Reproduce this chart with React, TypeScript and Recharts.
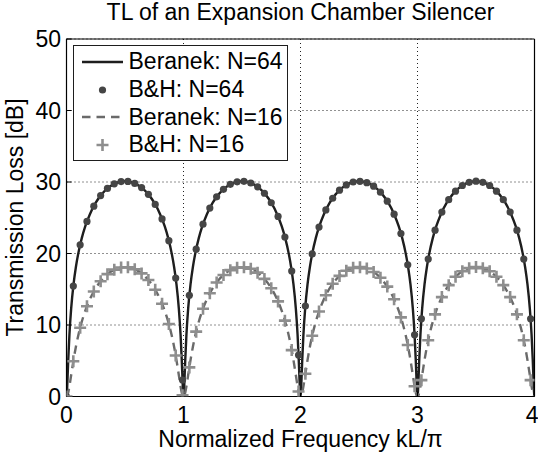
import React from 'react';
import { ComposedChart, Line, XAxis, YAxis, CartesianGrid } from 'recharts';

const xTicks = [0, 1, 2, 3, 4];
const yTicks = [0, 10, 20, 30, 40, 50];

// Beranek curves, dense kL/pi grid (denser near the zeros)
const beranekFreq = [
  0, 0.004, 0.008, 0.015, 0.025, 0.04, 0.06, 0.08, 0.1, 0.13, 0.16, 0.2, 0.25, 0.3, 0.35, 0.4, 0.45, 0.5,
  0.55, 0.6, 0.65, 0.7, 0.75, 0.8, 0.84, 0.87, 0.9, 0.92, 0.94, 0.96, 0.975, 0.985, 0.992, 0.996,
  1, 1.004, 1.008, 1.015, 1.025, 1.04, 1.06, 1.08, 1.1, 1.13, 1.16, 1.2, 1.25, 1.3, 1.35, 1.4, 1.45, 1.5,
  1.55, 1.6, 1.65, 1.7, 1.75, 1.8, 1.84, 1.87, 1.9, 1.92, 1.94, 1.96, 1.975, 1.985, 1.992, 1.996,
  2, 2.004, 2.008, 2.015, 2.025, 2.04, 2.06, 2.08, 2.1, 2.13, 2.16, 2.2, 2.25, 2.3, 2.35, 2.4, 2.45, 2.5,
  2.55, 2.6, 2.65, 2.7, 2.75, 2.8, 2.84, 2.87, 2.9, 2.92, 2.94, 2.96, 2.975, 2.985, 2.992, 2.996,
  3, 3.004, 3.008, 3.015, 3.025, 3.04, 3.06, 3.08, 3.1, 3.13, 3.16, 3.2, 3.25, 3.3, 3.35, 3.4, 3.45, 3.5,
  3.55, 3.6, 3.65, 3.7, 3.75, 3.8, 3.84, 3.87, 3.9, 3.92, 3.94, 3.96, 3.975, 3.985, 3.992, 3.996,
  4,
];

const beranek64 = [
  0, 0.65, 2.17, 5.15, 8.63, 12.32, 15.68, 18.08, 19.95, 22.11, 23.78, 25.5, 27.1, 28.27, 29.1, 29.67, 30, 30.11,
  30, 29.67, 29.1, 28.27, 27.1, 25.5, 23.78, 22.11, 19.95, 18.08, 15.68, 12.32, 8.63, 5.15, 2.17, 0.65,
  0, 0.65, 2.17, 5.15, 8.63, 12.32, 15.68, 18.08, 19.95, 22.11, 23.78, 25.5, 27.1, 28.27, 29.1, 29.67, 30, 30.11,
  30, 29.67, 29.1, 28.27, 27.1, 25.5, 23.78, 22.11, 19.95, 18.08, 15.68, 12.32, 8.63, 5.15, 2.17, 0.65,
  0, 0.65, 2.17, 5.15, 8.63, 12.32, 15.68, 18.08, 19.95, 22.11, 23.78, 25.5, 27.1, 28.27, 29.1, 29.67, 30, 30.11,
  30, 29.67, 29.1, 28.27, 27.1, 25.5, 23.78, 22.11, 19.95, 18.08, 15.68, 12.32, 8.63, 5.15, 2.17, 0.65,
  0, 0.65, 2.17, 5.15, 8.63, 12.32, 15.68, 18.08, 19.95, 22.11, 23.78, 25.5, 27.1, 28.27, 29.1, 29.67, 30, 30.11,
  30, 29.67, 29.1, 28.27, 27.1, 25.5, 23.78, 22.11, 19.95, 18.08, 15.68, 12.32, 8.63, 5.15, 2.17, 0.65,
  0,
];

const beranek16 = [
  0, 0.04, 0.17, 0.57, 1.43, 3, 5.09, 6.93, 8.49, 10.42, 11.97, 13.61, 15.15, 16.29, 17.11, 17.67, 17.99, 18.1,
  17.99, 17.67, 17.11, 16.29, 15.15, 13.61, 11.97, 10.42, 8.49, 6.93, 5.09, 3, 1.43, 0.57, 0.17, 0.04,
  0, 0.04, 0.17, 0.57, 1.43, 3, 5.09, 6.93, 8.49, 10.42, 11.97, 13.61, 15.15, 16.29, 17.11, 17.67, 17.99, 18.1,
  17.99, 17.67, 17.11, 16.29, 15.15, 13.61, 11.97, 10.42, 8.49, 6.93, 5.09, 3, 1.43, 0.57, 0.17, 0.04,
  0, 0.04, 0.17, 0.57, 1.43, 3, 5.09, 6.93, 8.49, 10.42, 11.97, 13.61, 15.15, 16.29, 17.11, 17.67, 17.99, 18.1,
  17.99, 17.67, 17.11, 16.29, 15.15, 13.61, 11.97, 10.42, 8.49, 6.93, 5.09, 3, 1.43, 0.57, 0.17, 0.04,
  0, 0.04, 0.17, 0.57, 1.43, 3, 5.09, 6.93, 8.49, 10.42, 11.97, 13.61, 15.15, 16.29, 17.11, 17.67, 17.99, 18.1,
  17.99, 17.67, 17.11, 16.29, 15.15, 13.61, 11.97, 10.42, 8.49, 6.93, 5.09, 3, 1.43, 0.57, 0.17, 0.04,
  0,
];

// B&H sample points
const bhFreq = [
  0, 0.0583, 0.1167, 0.175, 0.2333, 0.2917, 0.35, 0.4083, 0.4667, 0.525, 0.5833, 0.6417, 0.7, 0.7583,
  0.8167, 0.875, 0.9333, 0.9917, 1.05, 1.1083, 1.1667, 1.225, 1.2833, 1.3417, 1.4, 1.4583, 1.5167, 1.575,
  1.6333, 1.6917, 1.75, 1.8083, 1.8667, 1.925, 1.9833, 2.0417, 2.1, 2.1583, 2.2167, 2.275, 2.3333, 2.3917,
  2.45, 2.5083, 2.5667, 2.625, 2.6833, 2.7417, 2.8, 2.8583, 2.9167, 2.975, 3.0333, 3.0917, 3.15, 3.2083,
  3.2667, 3.325, 3.3833, 3.4417, 3.5, 3.5583, 3.6167, 3.675, 3.7333, 3.7917, 3.85, 3.9083, 3.9667,
];

const bh64 = [
  0, 15.44, 21.22, 24.48, 26.62, 28.1, 29.1, 29.74, 30.06, 30.08, 29.8, 29.22, 28.27, 26.87,
  24.84, 21.79, 16.56, 2.31, 14.16, 20.61, 24.1, 26.36, 27.92, 28.98, 29.67, 30.03, 30.09, 29.86,
  29.32, 28.43, 27.1, 25.18, 22.31, 17.54, 5.8, 12.66, 19.94, 23.69, 26.09, 27.73, 28.86, 29.59,
  30, 30.1, 29.91, 29.42, 28.58, 27.32, 25.5, 22.8, 18.42, 8.63, 10.86, 19.22, 23.26, 25.8,
  27.53, 28.72, 29.51, 29.96, 30.11, 29.96, 29.51, 28.72, 27.53, 25.8, 23.26, 19.22, 10.86,
];

const bh16 = [
  0, 4.93, 9.62, 12.63, 14.69, 16.12, 17.11, 17.74, 18.05, 18.07, 17.8, 17.22, 16.29, 14.93,
  12.98, 10.13, 5.73, 0.18, 4.07, 9.07, 12.27, 14.44, 15.95, 16.99, 17.67, 18.02, 18.08, 17.86,
  17.32, 16.45, 15.15, 13.3, 10.61, 6.49, 0.7, 3.18, 8.49, 11.89, 14.17, 15.77, 16.87, 17.59,
  17.99, 18.09, 17.91, 17.42, 16.6, 15.37, 13.61, 11.06, 7.2, 1.43, 2.29, 7.87, 11.49, 13.9,
  15.57, 16.74, 17.51, 17.95, 18.1, 17.95, 17.51, 16.74, 15.57, 13.9, 11.49, 7.87, 2.29,
];

const legendLabels = ['Beranek: N=64', 'B&H: N=64', 'Beranek: N=16', 'B&H: N=16'];

const SOLID = '#1e1e1e';
const DOT = '#454545';
const DASH = '#6a6a6a';
const PLUS = '#8e8e8e';
const FONT = '"Liberation Sans", Arial, Helvetica, sans-serif';
const FS = 23;

const ber64Data = beranekFreq.map((f, i) => ({ f, tl: beranek64[i] }));
const ber16Data = beranekFreq.map((f, i) => ({ f, tl: beranek16[i] }));
const bh64Data = bhFreq.map((f, i) => ({ f, tl: bh64[i] }));
const bh16Data = bhFreq.map((f, i) => ({ f, tl: bh16[i] }));

const renderDot = (p: any) => {
  if (p.cx == null || p.cy == null) return <g key={p.index} />;
  return <circle key={p.index} cx={p.cx} cy={p.cy} r={3.6} fill={DOT} stroke="none" />;
};

const renderPlus = (p: any) => {
  if (p.cx == null || p.cy == null) return <g key={p.index} />;
  const s = 6;
  return (
    <path
      key={p.index}
      d={`M${p.cx - s},${p.cy}H${p.cx + s}M${p.cx},${p.cy - s}V${p.cy + s}`}
      stroke={PLUS}
      strokeWidth={2.6}
      fill="none"
    />
  );
};

const tickStyle = { fill: '#000', fontSize: FS, fontFamily: FONT };

function LegendBox() {
  const rowCenters = [17, 45, 72.5, 100];
  const samples = [
    <line x1={0} y1={10} x2={41} y2={10} stroke={SOLID} strokeWidth={2.4} />,
    <circle cx={20.5} cy={10} r={3.6} fill={DOT} />,
    <line x1={0} y1={10} x2={41} y2={10} stroke={DASH} strokeWidth={2.4} strokeDasharray="8.5 6" />,
    <path d="M14.5,10H26.5M20.5,4V16" stroke={PLUS} strokeWidth={2.6} />,
  ];
  return (
    <div
      style={{
        position: 'absolute',
        left: 72.5,
        top: 45,
        width: 215,
        height: 116,
        boxSizing: 'border-box',
        border: `1.5px solid ${SOLID}`,
        background: '#fff',
      }}
    >
      {legendLabels.map((label, i) => (
        <React.Fragment key={label}>
          <svg
            width={42}
            height={20}
            style={{ position: 'absolute', left: 8, top: rowCenters[i] - 10 - 1.5 }}
          >
            {samples[i]}
          </svg>
          <div
            style={{
              position: 'absolute',
              left: 55,
              top: rowCenters[i] - 0.488 * FS - 1.5,
              fontFamily: FONT,
              fontSize: FS,
              lineHeight: `${FS}px`,
              whiteSpace: 'nowrap',
              color: '#000',
            }}
          >
            {label}
          </div>
        </React.Fragment>
      ))}
    </div>
  );
}

export default function App() {
  return (
    <div
      style={{
        position: 'absolute',
        left: 0,
        top: 0,
        width: 538,
        height: 454,
        background: '#fff',
        overflow: 'hidden',
        fontFamily: FONT,
      }}
    >
      <ComposedChart
        width={538}
        height={454}
        margin={{ top: 38, right: 2.5, bottom: 27.5, left: 6.5 }}
      >
        <CartesianGrid stroke="#222" strokeDasharray="1 3" strokeWidth={1} />
        <XAxis
          dataKey="f"
          type="number"
          domain={[0, 4]}
          ticks={xTicks}
          height={30}
          allowDataOverflow
          axisLine={{ stroke: '#000', strokeWidth: 1.2 }}
          tickLine={{ stroke: '#000' }}
          tickSize={-5}
          tickMargin={15}
          tick={tickStyle}
        />
        <XAxis
          xAxisId="top"
          orientation="top"
          dataKey="f"
          type="number"
          domain={[0, 4]}
          ticks={xTicks}
          height={1}
          axisLine={{ stroke: '#000', strokeWidth: 1.2 }}
          tickLine={{ stroke: '#000' }}
          tickSize={-5}
          tick={false}
        />
        <YAxis
          type="number"
          domain={[0, 50]}
          ticks={yTicks}
          width={60}
          allowDataOverflow
          axisLine={{ stroke: '#000', strokeWidth: 1.2 }}
          tickLine={{ stroke: '#000' }}
          tickSize={-5}
          tickMargin={10.5}
          tick={tickStyle}
        />
        <YAxis
          yAxisId="right"
          orientation="right"
          type="number"
          domain={[0, 50]}
          ticks={yTicks}
          width={1}
          axisLine={{ stroke: '#000', strokeWidth: 1.2 }}
          tickLine={{ stroke: '#000' }}
          tickSize={-5}
          tick={false}
        />
        <Line
          data={ber64Data}
          dataKey="tl"
          type="monotone"
          stroke={SOLID}
          strokeWidth={2.4}
          dot={false}
          activeDot={false}
          isAnimationActive={false}
        />
        <Line
          data={bh64Data}
          dataKey="tl"
          stroke="none"
          dot={renderDot}
          activeDot={false}
          isAnimationActive={false}
        />
        <Line
          data={ber16Data}
          dataKey="tl"
          type="monotone"
          stroke={DASH}
          strokeWidth={2.4}
          strokeDasharray="8.5 6"
          dot={false}
          activeDot={false}
          isAnimationActive={false}
        />
        <Line
          data={bh16Data}
          dataKey="tl"
          stroke="none"
          dot={renderPlus}
          activeDot={false}
          isAnimationActive={false}
        />
      </ComposedChart>

      <div
        style={{
          position: 'absolute',
          left: 66.5,
          width: 468,
          top: 12.5 - 0.488 * FS,
          textAlign: 'center',
          fontSize: FS,
          lineHeight: `${FS}px`,
          whiteSpace: 'nowrap',
          color: '#000',
        }}
      >
        TL of an Expansion Chamber Silencer
      </div>

      <div
        style={{
          position: 'absolute',
          left: 66.5,
          width: 468,
          top: 439 - 0.488 * FS,
          textAlign: 'center',
          fontSize: FS,
          lineHeight: `${FS}px`,
          whiteSpace: 'nowrap',
          color: '#000',
        }}
      >
        Normalized Frequency kL/π
      </div>

      <div
        style={{
          position: 'absolute',
          left: 15 - 150,
          top: 217.5 - FS / 2,
          width: 300,
          textAlign: 'center',
          fontSize: FS,
          lineHeight: `${FS}px`,
          whiteSpace: 'nowrap',
          color: '#000',
          transform: 'rotate(-90deg)',
        }}
      >
        Transmission Loss [dB]
      </div>

      <LegendBox />
    </div>
  );
}
